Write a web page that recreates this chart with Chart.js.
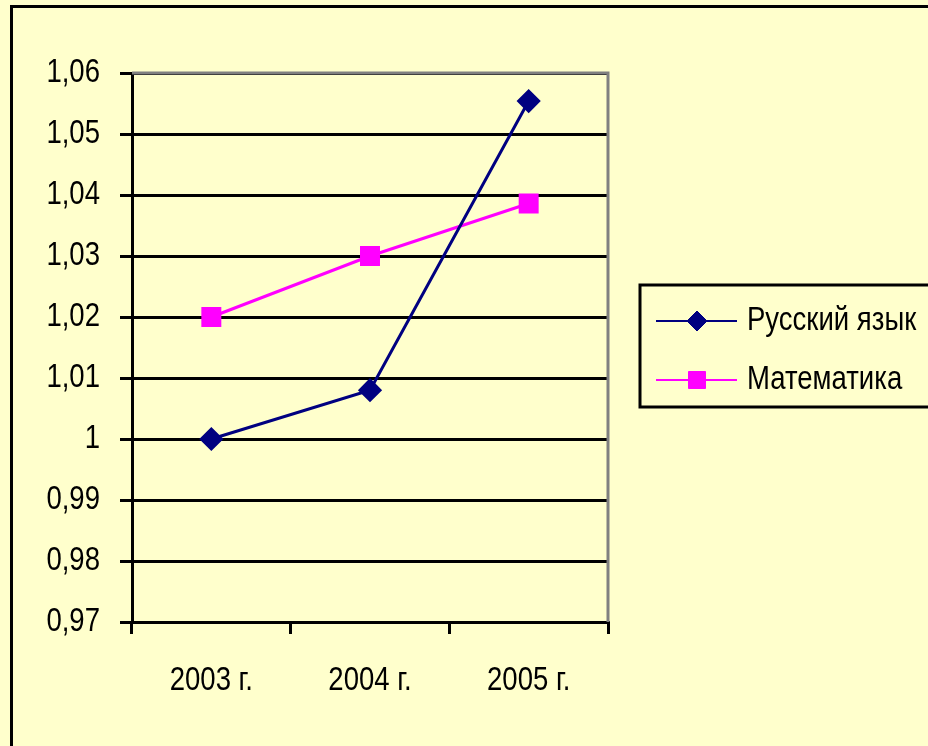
<!DOCTYPE html>
<html>
<head>
<meta charset="utf-8">
<script src="https://cdn.jsdelivr.net/npm/chart.js@4.4.1/dist/chart.umd.min.js"></script>
<style>
  html, body { margin: 0; padding: 0; background: #FFFFCC; }
</style>
</head>
<body>
<canvas id="myChart" width="928" height="746"></canvas>
<script>
const years = ['2003 г.', '2004 г.', '2005 г.'];
const russian = [1.000, 1.008, 1.0554];
const maths = [1.020, 1.030, 1.0386];
const seriesNames = ['Русский язык', 'Математика'];

const FONT = "'Liberation Sans', Arial, sans-serif";
const SQUEEZE = 0.81;

// the original text is tall and narrow: squeeze it sideways around its anchor point
const narrowText = {
  id: 'narrowText',
  beforeDraw(chart) {
    const ctx = chart.ctx;
    if (ctx._origFill) return;
    ctx._origFill = ctx.fillText;
    ctx.fillText = function(t, x, y, w) {
      this.save();
      this.translate(x, y);
      this.scale(SQUEEZE, 1);
      this._origFill(t, 0, 0, w);
      this.restore();
    };
  }
};

const frame = {
  id: 'frame',
  beforeDraw(chart) {
    const ctx = chart.ctx;
    ctx.save();
    ctx.fillStyle = '#FFFFCC';
    ctx.fillRect(0, 0, chart.width, chart.height);
    ctx.strokeStyle = '#000';
    ctx.lineWidth = 3;
    ctx.strokeRect(11.5, 6.5, chart.width + 20, chart.height + 20);
    ctx.restore();
  },
  beforeDatasetsDraw(chart) {
    const a = chart.chartArea, ctx = chart.ctx;
    ctx.save();
    ctx.strokeStyle = '#808080';
    ctx.lineWidth = 3;
    ctx.beginPath();
    ctx.moveTo(a.left, a.top);
    ctx.lineTo(a.right, a.top);
    ctx.lineTo(a.right, a.bottom);
    ctx.stroke();
    ctx.restore();
  },
  afterDraw(chart) {
    // boxed legend on the right
    const ctx = chart.ctx;
    ctx.save();
    ctx.strokeStyle = '#000';
    ctx.lineWidth = 3;
    ctx.strokeRect(640, 285, 400, 122);
    const rows = [321, 380];
    chart.data.datasets.forEach((ds, i) => {
      const y = rows[i];
      ctx.strokeStyle = ds.borderColor;
      ctx.lineWidth = 2;
      ctx.beginPath();
      ctx.moveTo(656, y);
      ctx.lineTo(737, y);
      ctx.stroke();
      ctx.fillStyle = ds.pointBackgroundColor;
      ctx.strokeStyle = ds.borderColor;
      ctx.lineWidth = 1;
      Chart.helpers.drawPoint(ctx, {pointStyle: ds.pointStyle, radius: ds.pointRadius, rotation: 0, borderWidth: 1}, 697, y);
      ctx.fillStyle = '#000';
      ctx.font = '34px ' + FONT;
      ctx.textAlign = 'left';
      ctx.textBaseline = 'middle';
      ctx.fillText(ds.label, 747, y);
    });
    ctx.restore();
  }
};

new Chart('myChart', {
  type: 'line',
  data: {
    labels: years,
    datasets: [
      {
        label: seriesNames[0],
        data: russian,
        borderColor: '#000080',
        backgroundColor: '#000080',
        pointBackgroundColor: '#000080',
        pointStyle: 'rectRot',
        pointRadius: 10,
        borderWidth: 3,
        tension: 0,
      },
      {
        label: seriesNames[1],
        data: maths,
        borderColor: '#FF00FF',
        backgroundColor: '#FF00FF',
        pointBackgroundColor: '#FF00FF',
        pointStyle: 'rect',
        pointRadius: 12,
        borderWidth: 3,
        tension: 0,
      },
    ],
  },
  options: {
    responsive: false,
    animation: false,
    layout: { padding: { left: 12, top: 73, right: 320, bottom: 0 } },
    plugins: { legend: { display: false }, tooltip: { enabled: false } },
    scales: {
      x: {
        offset: true,
        afterFit(s) { s.height = 124; },
        grid: { offset: true, drawOnChartArea: false, color: '#000', lineWidth: 3, tickLength: 12 },
        border: { color: '#000', width: 3 },
        ticks: { color: '#000', padding: 26, font: { family: FONT, size: 34 }, maxRotation: 0 },
      },
      y: {
        min: 0.97,
        max: 1.06,
        afterFit(s) { s.width = 120; },
        grid: { color: '#000', lineWidth: 3, tickLength: 12 },
        border: { color: '#000', width: 3 },
        ticks: {
          stepSize: 0.01,
          color: '#000',
          padding: 20,
          font: { family: FONT, size: 34 },
          callback: v => (+v.toFixed(2)).toString().replace('.', ','),
        },
      },
    },
  },
  plugins: [narrowText, frame],
});
</script>
</body>
</html>
